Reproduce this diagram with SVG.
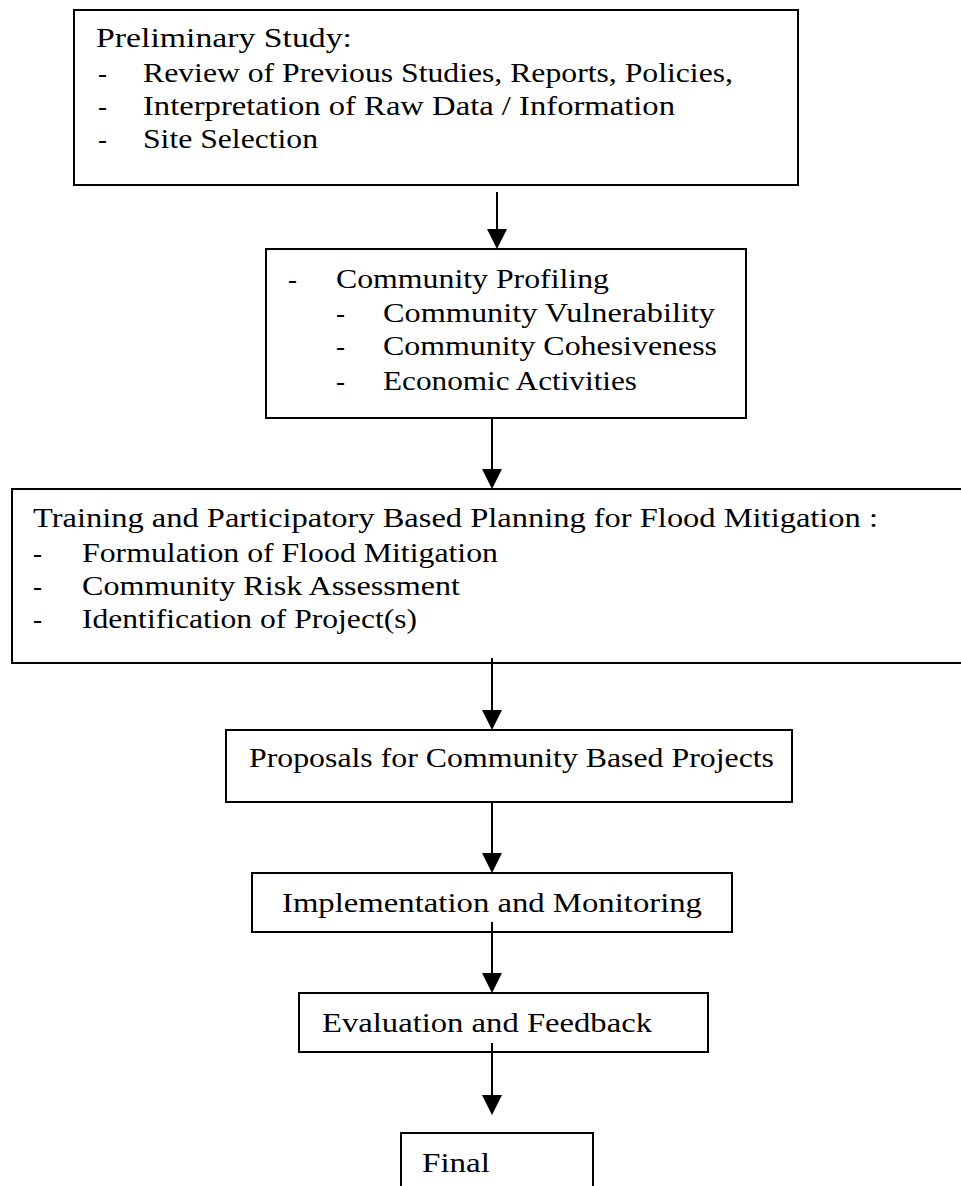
<svg xmlns="http://www.w3.org/2000/svg" width="961" height="1186" viewBox="0 0 961 1186">
<style>
.box{fill:#fff;stroke:#000;stroke-width:2}
text{font-family:"Liberation Serif","Times New Roman",serif;font-size:27px;fill:#000}
.conn line{stroke:#000;stroke-width:2}
</style>
<defs>
<marker id="ah" markerUnits="userSpaceOnUse" viewBox="0 0 20 20" refX="0" refY="10" markerWidth="20" markerHeight="20" orient="auto">
<path d="M0,0 L20,10 L0,20 z" fill="#000"/>
</marker>
</defs>
<rect width="961" height="1186" fill="#fff"/>
<g id="n1">
<rect class="box" x="74" y="10" width="724" height="175"/>
<text x="96" y="47" textLength="256" lengthAdjust="spacingAndGlyphs">Preliminary Study:</text>
<text x="98" y="82">-</text>
<text x="143" y="82" textLength="590" lengthAdjust="spacingAndGlyphs">Review of Previous Studies, Reports, Policies,</text>
<text x="98" y="115">-</text>
<text x="143" y="115" textLength="532" lengthAdjust="spacingAndGlyphs">Interpretation of Raw Data / Information</text>
<text x="98" y="148">-</text>
<text x="143" y="148" textLength="175" lengthAdjust="spacingAndGlyphs">Site Selection</text>
</g>
<g id="n2">
<rect class="box" x="266" y="249" width="480" height="169"/>
<text x="288" y="288">-</text>
<text x="336" y="288" textLength="273" lengthAdjust="spacingAndGlyphs">Community Profiling</text>
<text x="336" y="322">-</text>
<text x="383" y="322" textLength="332" lengthAdjust="spacingAndGlyphs">Community Vulnerability</text>
<text x="336" y="355">-</text>
<text x="383" y="355" textLength="334" lengthAdjust="spacingAndGlyphs">Community Cohesiveness</text>
<text x="336" y="390">-</text>
<text x="383" y="390" textLength="254" lengthAdjust="spacingAndGlyphs">Economic Activities</text>
</g>
<g id="n3">
<rect class="box" x="12" y="489" width="960" height="174"/>
<text x="33" y="527" textLength="845" lengthAdjust="spacingAndGlyphs">Training and Participatory Based Planning for Flood Mitigation :</text>
<text x="33" y="562">-</text>
<text x="82" y="562" textLength="416" lengthAdjust="spacingAndGlyphs">Formulation of Flood Mitigation</text>
<text x="33" y="595">-</text>
<text x="82" y="595" textLength="378" lengthAdjust="spacingAndGlyphs">Community Risk Assessment</text>
<text x="33" y="628">-</text>
<text x="82" y="628" textLength="335" lengthAdjust="spacingAndGlyphs">Identification of Project(s)</text>
</g>
<g id="n4">
<rect class="box" x="226" y="730" width="566" height="72"/>
<text x="249" y="767" textLength="525" lengthAdjust="spacingAndGlyphs">Proposals for Community Based Projects</text>
</g>
<g id="n5">
<rect class="box" x="252" y="873" width="480" height="59"/>
<text x="282" y="912" textLength="420" lengthAdjust="spacingAndGlyphs">Implementation and Monitoring</text>
</g>
<g id="n6">
<rect class="box" x="299" y="993" width="409" height="59"/>
<text x="322" y="1032" textLength="330" lengthAdjust="spacingAndGlyphs">Evaluation and Feedback</text>
</g>
<g id="n7">
<rect class="box" x="401" y="1133" width="192" height="80"/>
<text x="422" y="1172" textLength="68" lengthAdjust="spacingAndGlyphs">Final</text>
</g>
<g class="conn" id="connectors">
<line x1="497" y1="192" x2="497" y2="229" marker-end="url(#ah)"/>
<line x1="492" y1="418" x2="492" y2="469" marker-end="url(#ah)"/>
<line x1="492" y1="658" x2="492" y2="710" marker-end="url(#ah)"/>
<line x1="492" y1="802" x2="492" y2="853" marker-end="url(#ah)"/>
<line x1="492" y1="922" x2="492" y2="973" marker-end="url(#ah)"/>
<line x1="492" y1="1043" x2="492" y2="1095" marker-end="url(#ah)"/>
</g>
</svg>
